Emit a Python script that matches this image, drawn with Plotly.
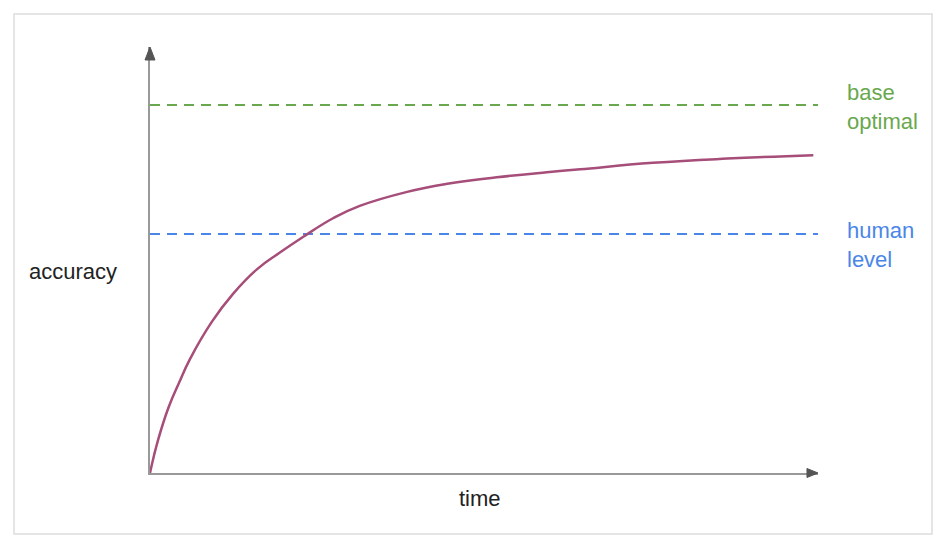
import plotly.graph_objects as go

# data (time 0..100, accuracy 0..100)
time = [0, 1.2, 2.8, 4.3, 6.0, 9.3, 12.4, 16.0, 19.5, 22.9, 27.4, 31.4, 38.5,
        44.5, 51.9, 59.4, 64.4, 75.3, 86.4, 99.3]
accuracy = [0, 7.7, 15.5, 21.0, 26.8, 35.6, 42.0, 47.8, 51.8, 55.4, 59.8, 62.7,
            66.0, 67.9, 69.4, 70.6, 71.3, 72.8, 73.8, 74.6]
base_optimal = 86.4
human_level = 56.1
line_labels = ["base<br>optimal", "human<br>level"]
axis_labels = ["time", "accuracy"]

GREEN = "#6aa84f"
BLUE = "#4a86e8"
CURVE = "#a64d79"
FONT = "Liberation Sans, Arial, sans-serif"

fig = go.Figure()
fig.add_trace(go.Scatter(x=[0, 100], y=[base_optimal, base_optimal], mode="lines",
                         line=dict(color=GREEN, width=2, dash="10px,7px"),
                         hoverinfo="skip"))
fig.add_trace(go.Scatter(x=[0, 100], y=[human_level, human_level], mode="lines",
                         line=dict(color=BLUE, width=2, dash="10px,7px"),
                         hoverinfo="skip"))
fig.add_trace(go.Scatter(x=time, y=accuracy, mode="lines",
                         line=dict(color=CURVE, width=2.5, shape="spline", smoothing=1.3)))

axis_common = dict(range=[0, 100], showgrid=False, zeroline=False, showticklabels=False,
                   ticks="", showline=True, linecolor="#999999", linewidth=2, fixedrange=True)
fig.update_xaxes(**axis_common)
fig.update_yaxes(**axis_common)

shapes = [
    # outer frame
    dict(type="rect", xref="paper", yref="paper", x0=-0.2036, x1=1.1707, y0=-0.1432, y1=1.0775,
         line=dict(color="#dddddd", width=1.5), layer="below"),
    # y arrow head
    dict(type="path", xref="paper", yref="paper",
         path="M -0.0075 0.9695 L 0 1.0 L 0.0075 0.9695 Z",
         fillcolor="#555555", line=dict(color="#555555", width=1)),
    # x arrow head
    dict(type="path", xref="paper", yref="paper",
         path="M 0.9835 0.0106 L 1.0 0 L 0.9835 -0.0106 Z",
         fillcolor="#555555", line=dict(color="#555555", width=1)),
]

annotations = [
    dict(text=line_labels[0], x=1.040, y=0.859, xref="paper", yref="paper", xanchor="left",
         yanchor="middle", align="left", showarrow=False,
         font=dict(family=FONT, size=22, color=GREEN)),
    dict(text=line_labels[1], x=1.040, y=0.535, xref="paper", yref="paper", xanchor="left",
         yanchor="middle", align="left", showarrow=False,
         font=dict(family=FONT, size=22, color=BLUE)),
    dict(text=axis_labels[1], x=-0.184, y=0.472, xref="paper", yref="paper", xanchor="left",
         yanchor="middle", showarrow=False, font=dict(family=FONT, size=22, color="#222222")),
    dict(text=axis_labels[0], x=0.494, y=-0.06, xref="paper", yref="paper", xanchor="center",
         yanchor="middle", showarrow=False, font=dict(family=FONT, size=22, color="#222222")),
]

fig.update_layout(width=940, height=548, margin=dict(l=150, r=122, t=47, b=75),
                  paper_bgcolor="white", plot_bgcolor="white", showlegend=False,
                  shapes=shapes, annotations=annotations)

fig.write_html("out.html", config={"displayModeBar": False},
               post_script="document.body.style.margin='0';")
